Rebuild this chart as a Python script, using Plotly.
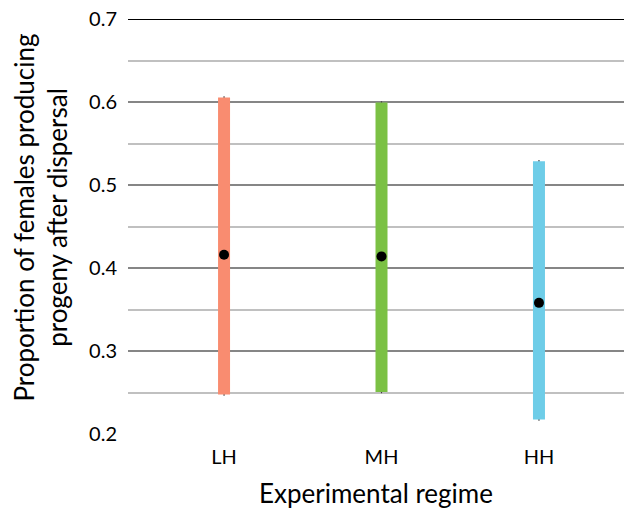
import plotly.graph_objects as go

categories = ["LH", "MH", "HH"]
means = [0.416, 0.414, 0.358]
lower = [0.246, 0.249, 0.216]
upper = [0.607, 0.601, 0.530]
colors = ["#F98C70", "#7BC144", "#6ECDE8"]

FONT = "Lato"

fig = go.Figure()

# thin error whiskers (visible just past bar ends)
fig.add_trace(go.Scatter(
    x=categories, y=means, mode="markers",
    marker=dict(size=1, color="rgba(0,0,0,0)"),
    error_y=dict(type="data", symmetric=False,
                 array=[u - m for u, m in zip(upper, means)],
                 arrayminus=[m - l for m, l in zip(means, lower)],
                 thickness=1.2, width=0, color="#404040"),
    showlegend=False, hoverinfo="skip"))

for c, lo, hi, col in zip(categories, lower, upper, colors):
    fig.add_trace(go.Scatter(
        x=[c, c], y=[lo + 0.0015, hi - 0.0015], mode="lines",
        line=dict(color=col, width=12),
        showlegend=False, hoverinfo="skip"))

fig.add_trace(go.Scatter(
    x=categories, y=means, mode="markers",
    marker=dict(size=10, color="black"),
    showlegend=False))

fig.update_layout(
    width=625, height=510,
    margin=dict(l=128, r=1, t=19, b=76),
    paper_bgcolor="white", plot_bgcolor="white",
    font=dict(family=FONT, color="black"),
    xaxis=dict(
        type="category", range=[-0.61, 2.54], automargin=False,
        showgrid=False, zeroline=False, showline=False,
        ticks="", tickfont=dict(size=20, family=FONT),
        ticklabelstandoff=9,
    ),
    yaxis=dict(
        range=[0.2, 0.7], dtick=0.1, tickformat=".1f", automargin=False,
        showgrid=True, gridcolor="#868686", gridwidth=1.5,
        zeroline=False, showline=False, ticks="",
        tickfont=dict(size=20, family=FONT), ticklabelstandoff=10,
        ticklabeloverflow="allow",
        minor=dict(dtick=0.05, showgrid=True, gridcolor="#C0C0C0", gridwidth=1.5),
    ),
    shapes=[dict(type="line", xref="paper", yref="y", x0=0, x1=1, y0=0.7, y1=0.7,
                 line=dict(color="black", width=2))],
    annotations=[
        dict(text="Proportion of females producing<br>progeny after dispersal",
             xref="paper", yref="paper", x=0, y=0.5, xanchor="right", yanchor="middle",
             xshift=-53, yshift=9, textangle=-90, showarrow=False,
             font=dict(size=26, family=FONT)),
        dict(text="Experimental regime",
             xref="paper", yref="paper", x=0.5, y=0, xanchor="center", yanchor="middle",
             yshift=-59, showarrow=False, font=dict(size=26, family=FONT)),
    ],
)

fig.write_html("out.html", config={"displayModeBar": False},
               post_script="document.body.style.margin='0';")
